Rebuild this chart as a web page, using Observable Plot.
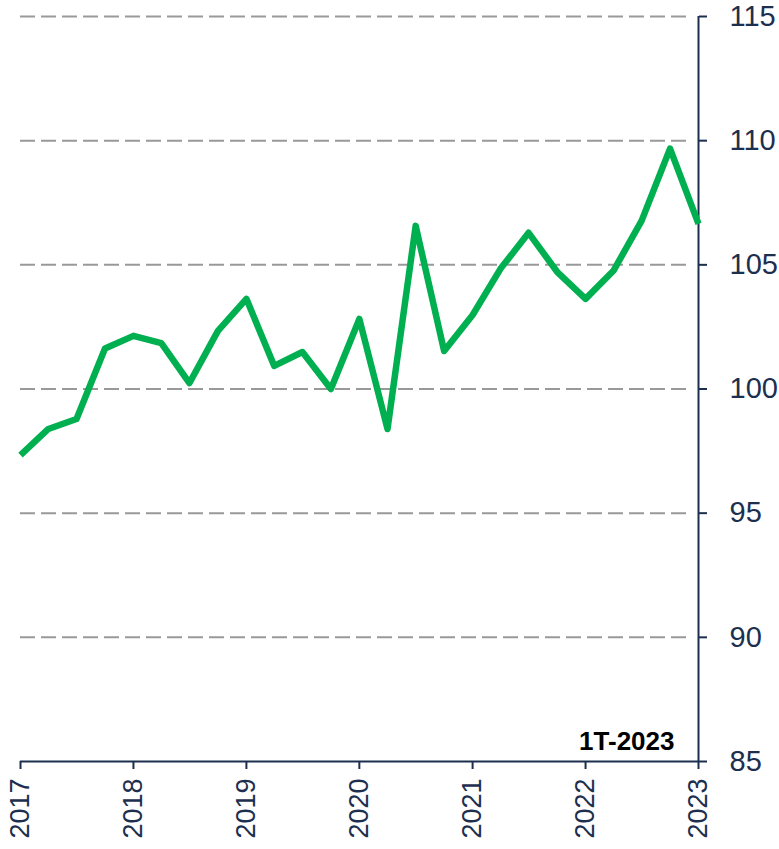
<!DOCTYPE html>
<html>
<head>
<meta charset="utf-8">
<script src="https://cdn.jsdelivr.net/npm/d3@7"></script>
<script src="https://cdn.jsdelivr.net/npm/@observablehq/plot@0.6"></script>
<style>
  html, body { margin: 0; padding: 0; background: #ffffff; }
  #chart svg { display: block; }
</style>
</head>
<body>
<div id="chart"></div>
<script>
// Quarterly observations (start of quarter)
const quarters = [
  "2017-01-01","2017-04-01","2017-07-01","2017-10-01",
  "2018-01-01","2018-04-01","2018-07-01","2018-10-01",
  "2019-01-01","2019-04-01","2019-07-01","2019-10-01",
  "2020-01-01","2020-04-01","2020-07-01","2020-10-01",
  "2021-01-01","2021-04-01","2021-07-01","2021-10-01",
  "2022-01-01","2022-04-01","2022-07-01","2022-10-01",
  "2023-01-01"
];
const values = [
  97.34, 98.39, 98.79, 101.63,
  102.14, 101.85, 100.24, 102.34,
  103.63, 100.93, 101.49, 100.00,
  102.82, 98.39, 106.57, 101.53,
  102.98, 104.84, 106.29, 104.72,
  103.63, 104.76, 106.77, 109.68,
  106.65
];
const yearTicks = ["2017-01-01","2018-01-01","2019-01-01","2020-01-01","2021-01-01","2022-01-01","2023-01-01"];
const yTicks = [85, 90, 95, 100, 105, 110, 115];
const gridValues = [90, 95, 100, 105, 110, 115];
const noteLabel = ["1T-2023"];

const data = quarters.map((q, i) => ({ date: new Date(q), value: values[i] }));
const xTickDates = yearTicks.map(d => new Date(d));
const xStart = new Date(yearTicks[0]);
const xEnd = new Date(yearTicks[yearTicks.length - 1]);

const navy = "#1d2f4f";
const green = "#00b050";

const chart = Plot.plot({
  width: 779,
  height: 849,
  marginLeft: 20,
  marginRight: 81,
  marginTop: 16,
  marginBottom: 88,
  style: { fontFamily: "'Liberation Sans', Arial, sans-serif", background: "#ffffff" },
  x: { type: "utc", domain: [xStart, xEnd] },
  y: { domain: [85, 115] },
  marks: [
    Plot.ruleY(gridValues, { stroke: "#999999", strokeWidth: 2, strokeDasharray: "15,6", insetRight: 8 }),
    Plot.ruleY([85], { stroke: navy, strokeWidth: 2 }),
    Plot.ruleX([xEnd], { y1: 85, y2: 115, stroke: navy, strokeWidth: 2 }),
    Plot.axisY({
      anchor: "right", ticks: yTicks, tickSize: 8, tickPadding: 23,
      tickFormat: d => String(d), label: null, color: navy,
      fontSize: 29, strokeWidth: 2
    }),
    Plot.axisX({
      anchor: "bottom", ticks: xTickDates, tickSize: 8, tickPadding: 9,
      tickFormat: "%Y", tickRotate: -90, label: null, color: navy,
      fontSize: 27, strokeWidth: 2
    }),
    Plot.line(data, { x: "date", y: "value", stroke: green, strokeWidth: 6.5, strokeLinejoin: "round", strokeLinecap: "butt" }),
    Plot.text(noteLabel, {
      x: () => xEnd, y: () => 85, text: d => d,
      textAnchor: "end", lineAnchor: "middle", dx: -24, dy: -20,
      fontSize: 26, fontWeight: "bold", fill: "#000000"
    })
  ]
});

document.getElementById("chart").appendChild(chart);
</script>
</body>
</html>
